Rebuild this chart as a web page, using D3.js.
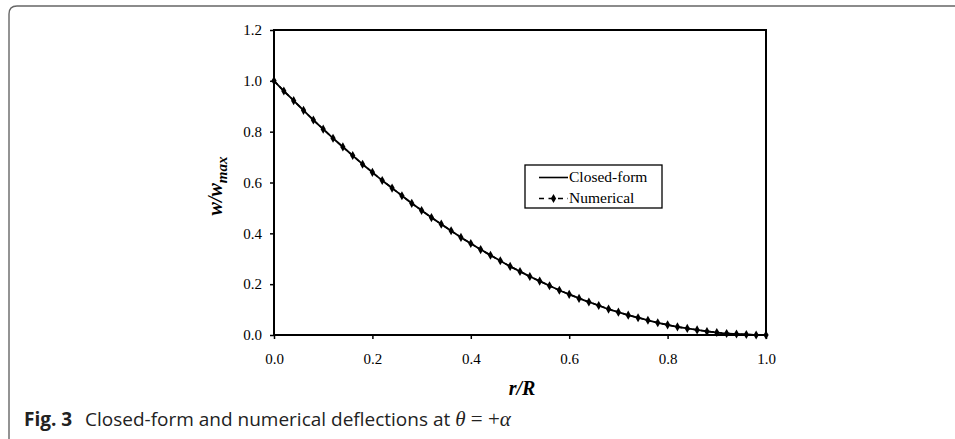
<!DOCTYPE html>
<html><head><meta charset="utf-8">
<script src="https://cdn.jsdelivr.net/npm/d3@7"></script>
<style>body{margin:0;background:#fff}svg{display:block}</style>
</head><body>
<svg id="c" width="955" height="439"></svg>
<script>
const rValues = [0,0.02,0.04,0.06,0.08,0.10,0.12,0.14,0.16,0.18,0.20,0.22,0.24,0.26,0.28,0.30,0.32,0.34,0.36,0.38,0.40,0.42,0.44,0.46,0.48,0.50,0.52,0.54,0.56,0.58,0.60,0.62,0.64,0.66,0.68,0.70,0.72,0.74,0.76,0.78,0.80,0.82,0.84,0.86,0.88,0.90,0.92,0.94,0.96,0.98,1.00];
const closedForm = [1.000,0.960,0.922,0.884,0.846,0.810,0.774,0.740,0.706,0.672,0.640,0.608,0.578,0.548,0.518,0.490,0.462,0.436,0.410,0.384,0.360,0.336,0.314,0.292,0.270,0.250,0.230,0.212,0.194,0.176,0.160,0.144,0.130,0.116,0.102,0.090,0.078,0.068,0.058,0.048,0.040,0.032,0.026,0.020,0.014,0.010,0.006,0.004,0.002,0.000,0.000];
const numerical = [1.000,0.960,0.922,0.884,0.846,0.810,0.774,0.740,0.706,0.672,0.640,0.608,0.578,0.548,0.518,0.490,0.462,0.436,0.410,0.384,0.360,0.336,0.314,0.292,0.270,0.250,0.230,0.212,0.194,0.176,0.160,0.144,0.130,0.116,0.102,0.090,0.078,0.068,0.058,0.048,0.040,0.032,0.026,0.020,0.014,0.010,0.006,0.004,0.002,0.000,0.000];
const xTicks = [0,0.2,0.4,0.6,0.8,1.0];
const yTicks = [0,0.2,0.4,0.6,0.8,1.0,1.2];
const seriesNames = ["Closed-form","Numerical"];

const svg = d3.select("#c");
const serif = "'Liberation Serif','Times New Roman',serif";

// figure frame
svg.append("path").attr("d","M9,439 L9,14 Q9,6 17,6 L955,6")
  .attr("fill","none").attr("stroke","#666").attr("stroke-width",1.4);

const x = d3.scaleLinear().domain([0,1]).range([274,766]);
const y = d3.scaleLinear().domain([0,1.2]).range([335,30]);

// plot frame
svg.append("rect").attr("x",x(0)).attr("y",y(1.2)).attr("width",x(1)-x(0)).attr("height",y(0)-y(1.2))
  .attr("fill","none").attr("stroke","#000").attr("stroke-width",2);

const xa = svg.append("g").attr("transform",`translate(0,${y(0)})`)
  .call(d3.axisBottom(x).tickValues(xTicks).tickFormat(d3.format(".1f")).tickSize(4).tickPadding(14));
const ya = svg.append("g").attr("transform",`translate(${x(0)},0)`)
  .call(d3.axisLeft(y).tickValues(yTicks).tickFormat(d3.format(".1f")).tickSize(4).tickPadding(8));
[xa,ya].forEach(a=>{
  a.select(".domain").remove();
  a.selectAll("line").attr("stroke","#000").attr("stroke-width",1.5);
  a.selectAll("text").attr("font-family",serif).attr("font-size",15).attr("fill","#000");
});

const pts = rValues.map((r,i)=>({r, c:closedForm[i], n:numerical[i]}));
const diamond = d3.symbol().type(d3.symbolDiamond).size(24);

svg.append("path").datum(pts)
  .attr("d", d3.line().x(d=>x(d.r)).y(d=>y(d.n)))
  .attr("fill","none").attr("stroke","#000").attr("stroke-width",1.6).attr("stroke-dasharray","5,3");
svg.append("path").datum(pts)
  .attr("d", d3.line().x(d=>x(d.r)).y(d=>y(d.c)).curve(d3.curveMonotoneX))
  .attr("fill","none").attr("stroke","#000").attr("stroke-width",1.8);
svg.append("g").selectAll("path").data(pts).join("path")
  .attr("transform",d=>`translate(${x(d.r)},${y(d.n)})`)
  .attr("d",diamond).attr("fill","#000");

// legend
const lg = svg.append("g");
lg.append("rect").attr("x",525).attr("y",165).attr("width",137).attr("height",43)
  .attr("fill","#fff").attr("stroke","#000").attr("stroke-width",1.3);
lg.append("line").attr("x1",539).attr("x2",568).attr("y1",177.5).attr("y2",177.5).attr("stroke","#000").attr("stroke-width",1.6);
lg.append("line").attr("x1",539).attr("x2",568).attr("y1",198.5).attr("y2",198.5).attr("stroke","#000").attr("stroke-width",1.6).attr("stroke-dasharray","5,4.5");
lg.append("path").attr("transform","translate(553.5,198.5)").attr("d",diamond).attr("fill","#000");
lg.selectAll("text.l").data(seriesNames).join("text")
  .attr("x",569).attr("y",(d,i)=>182+i*21).text(d=>d)
  .attr("font-family",serif).attr("font-size",15.5).attr("fill","#000");

// axis titles
svg.append("text").attr("x",522).attr("y",395).attr("text-anchor","middle")
  .attr("font-family",serif).attr("font-size",20).attr("font-weight","bold").attr("font-style","italic")
  .text("r/R");
const yl = svg.append("text").attr("transform","translate(222,186) rotate(-90)").attr("text-anchor","middle")
  .attr("font-family",serif).attr("font-size",20).attr("font-weight","bold").attr("font-style","italic");
yl.append("tspan").text("w/w");
yl.append("tspan").attr("dy",5).attr("font-size",15).text("max");

// caption
const cap = svg.append("text").attr("x",24).attr("y",426)
  .attr("font-family","'Open Sans','Noto Sans',sans-serif").attr("font-size",19).attr("fill","#222");
cap.append("tspan").attr("font-weight","bold").text("Fig. 3");
cap.append("tspan").attr("x",85).text("Closed-form and numerical deflections at ");
cap.append("tspan").attr("font-family",serif).attr("font-style","italic").attr("font-size",21).text("θ");
cap.append("tspan").attr("font-family",serif).attr("font-size",21).text(" = +");
cap.append("tspan").attr("font-family",serif).attr("font-style","italic").attr("font-size",21).text("α");
</script>
</body></html>
